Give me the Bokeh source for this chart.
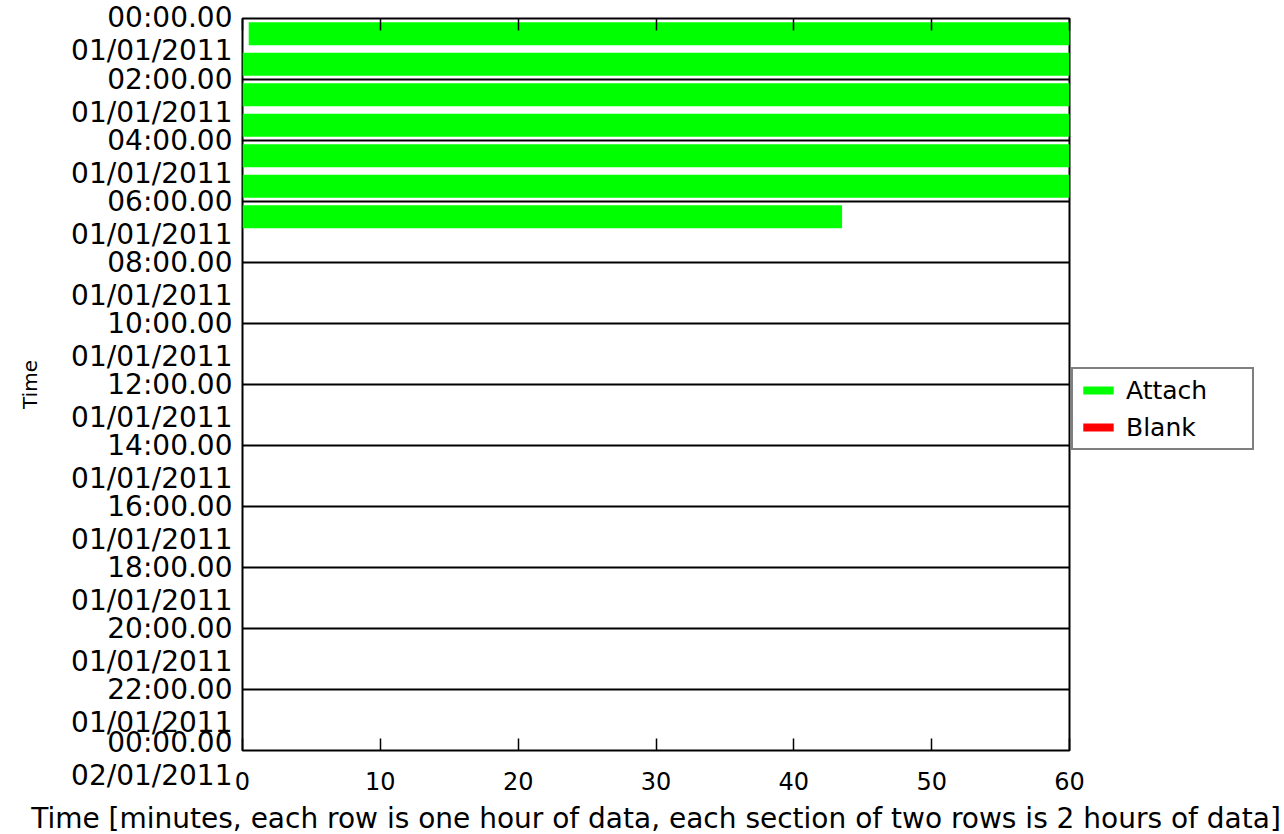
from bokeh.plotting import figure
from bokeh.models import (Range1d, FixedTicker, LinearAxis, Grid, Legend, LegendItem,
                          ColumnDataSource)
from bokeh.embed import file_html
from bokeh.resources import INLINE

# ---- data ----
hours = [0, 1, 2, 3, 4, 5, 6]
attach_start = [0.45, 0, 0, 0, 0, 0, 0]
attach_end = [60, 60, 60, 60, 60, 60, 43.5]
blank_hours = [0]
blank_start = [0]
blank_end = [0]
section_ticks = [0, 2, 4, 6, 8, 10, 12, 14, 16, 18, 20, 22, 24]
section_times = ["00:00.00", "02:00.00", "04:00.00", "06:00.00", "08:00.00", "10:00.00",
                 "12:00.00", "14:00.00", "16:00.00", "18:00.00", "20:00.00", "22:00.00",
                 "00:00.00"]
section_dates = ["01/01/2011"] * 12 + ["02/01/2011"]
x_ticks = [0, 10, 20, 30, 40, 50, 60]

FONT = "DejaVu Sans"
GREEN = "#00ff00"
RED = "#ff0000"
LAST_LABEL_SHIFT = 0.26  # lift the final label a little so it stays inside the range

p = figure(frame_width=827, frame_height=732, output_backend="svg", toolbar_location=None,
           x_range=Range1d(0, 60), y_range=Range1d(24, 0),
           x_axis_location=None, y_axis_location=None,
           min_border_left=242, min_border_top=18, min_border_right=211, min_border_bottom=84)
p.outline_line_color = "black"
p.outline_line_width = 2
p.background_fill_color = "white"
p.border_fill_color = "white"
p.xgrid.visible = False
p.ygrid.visible = False

src = ColumnDataSource(dict(y=[h + 0.5 for h in hours], left=attach_start, right=attach_end))
r_att = p.hbar(y="y", left="left", right="right", height=0.75, source=src,
               fill_color=GREEN, line_color=None)
src_b = ColumnDataSource(dict(y=[h + 0.5 for h in blank_hours], left=blank_start, right=blank_end))
r_blank = p.hbar(y="y", left="left", right="right", height=0.75, source=src_b,
                 fill_color=RED, line_color=None)

# horizontal section lines
g = Grid(dimension=1, ticker=FixedTicker(ticks=section_ticks),
         grid_line_color="black", grid_line_width=2)
p.add_layout(g)

n_sec = len(section_ticks)
label_pos = list(section_ticks)
label_pos[-1] = section_ticks[-1] - LAST_LABEL_SHIFT


def ylab(i, tm, d):
    if i == 0:
        return tm + "\n" + d
    return " \n" + tm + "\n" + d


yax = LinearAxis(ticker=FixedTicker(ticks=label_pos),
                 major_label_overrides={t: ylab(i, tm, d) for i, (t, tm, d) in
                                        enumerate(zip(label_pos, section_times, section_dates))},
                 major_tick_in=0, major_tick_out=0, minor_tick_in=0, minor_tick_out=0,
                 axis_line_color=None, major_label_standoff=10,
                 major_label_text_font=FONT, major_label_text_font_size="28px",
                 major_label_text_color="black",
                 major_label_text_line_height=1.0,
                 axis_label="Time", axis_label_text_font=FONT, axis_label_text_font_size="20px",
                 axis_label_text_color="black",
                 axis_label_text_font_style="normal", axis_label_standoff=26)
p.add_layout(yax, "left")

xax = LinearAxis(ticker=FixedTicker(ticks=x_ticks),
                 major_tick_in=12, major_tick_out=0, minor_tick_in=0, minor_tick_out=0,
                 major_tick_line_width=1.5,
                 axis_line_color=None, major_label_standoff=21,
                 major_label_text_font=FONT, major_label_text_font_size="24px",
                 major_label_text_color="black",
                 axis_label="Time [minutes, each row is one hour of data, each section of two rows is 2 hours of data]",
                 axis_label_text_font=FONT, axis_label_text_font_size="28px",
                 axis_label_text_color="black",
                 axis_label_text_font_style="normal", axis_label_standoff=9)
p.add_layout(xax, "below")

xtop = LinearAxis(ticker=FixedTicker(ticks=x_ticks),
                  major_tick_in=12, major_tick_out=0, minor_tick_in=0, minor_tick_out=0,
                  major_tick_line_width=1.5,
                  axis_line_color=None, major_label_text_font_size="0px",
                  major_label_standoff=0)
p.add_layout(xtop, "above")

legend = Legend(items=[LegendItem(label="Attach", renderers=[r_att]),
                       LegendItem(label="Blank", renderers=[r_blank])],
                location=(2, 300), orientation="vertical",
                border_line_color="black", border_line_width=2,
                label_text_font=FONT, label_text_font_size="25px", label_text_color="black",
                glyph_width=38, glyph_height=10, label_standoff=9,
                label_width=120, label_height=30,
                padding=6, spacing=7, margin=0, background_fill_alpha=1)
p.add_layout(legend, "right")

open("out.html", "w").write(file_html(p, INLINE))
